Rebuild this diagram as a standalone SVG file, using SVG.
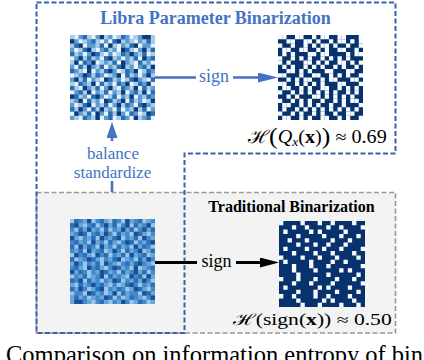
<svg xmlns="http://www.w3.org/2000/svg" width="424" height="360" viewBox="0 0 424 360">
<style>
text{font-family:"Liberation Serif","Times New Roman","DejaVu Serif",serif}
.blue{fill:#4472c4}
.blk{fill:#000}
.c{fill:none;stroke-width:1}
.frame-b{fill:none;stroke:#3a62aa;stroke-width:2;stroke-dasharray:5 2.5}
.frame-g{fill:#f3f3f3;stroke:#999;stroke-width:1.6;stroke-dasharray:5 2.5}
.con-b{fill:none;stroke:#4472c4;stroke-width:2.6}
.con-k{fill:none;stroke:#000;stroke-width:3}
</style>
<defs>
<marker id="ahB" viewBox="0 0 20 10" markerWidth="20" markerHeight="10" refX="10" refY="5" orient="auto" markerUnits="userSpaceOnUse"><path d="M0 0L20 5L0 10z" fill="#4472c4"/></marker>
<marker id="ahB2" viewBox="0 0 16 11" markerWidth="16" markerHeight="11" refX="8" refY="5.5" orient="auto" markerUnits="userSpaceOnUse"><path d="M0 0L16 5.5L0 11z" fill="#4472c4"/></marker>
<marker id="ahK" viewBox="0 0 19 10" markerWidth="19" markerHeight="10" refX="9" refY="5" orient="auto" markerUnits="userSpaceOnUse"><path d="M0 0L19 5L0 10z" fill="#000"/></marker>
<path id="g0" d="M1 0h1M5 0h1M10 0h1M14 0h1
M2 1h1M7 1h1M9 1h1M15 1h1
M3 2h1M8 2h1M11 2h1M16 2h1M19 2h1
M1 3h1M6 3h1M11 3h1M15 3h1
M3 4h1M8 4h1M10 4h1M18 4h1
M0 5h1M7 5h1M12 5h1M16 5h1
M2 6h1M6 6h1M11 6h1M15 6h1M19 6h1
M1 7h1M8 7h1M15 7h1
M3 8h1M5 8h1M11 8h1M16 8h1
M0 9h1M8 9h1M12 9h1M16 9h1
M4 10h1M7 10h1M12 10h1M18 10h1
M1 11h1M6 11h1M10 11h1M14 11h1M19 11h1
M2 12h1M7 12h1M11 12h1M16 12h1
M0 13h1M5 13h1M9 13h1M13 13h1M18 13h1
M4 14h1M8 14h1M11 14h1M15 14h1
M3 15h1M7 15h1M13 15h1M17 15h1
M1 16h1M5 16h1M9 16h1M15 16h1
M4 17h1M10 17h1M12 17h1M18 17h1
M0 18h1M5 18h1M8 18h1M13 18h1M16 18h1
M2 19h1M7 19h1M10 19h1M14 19h1M19 19h1"/>
<path id="g1" d="M0 0h1M4 0h1M8 0h1M11 0h1M15 0h1M19 0h1
M3 1h1M6 1h1M12 1h1M14 1h1M17 1h1M19 1h1
M0 2h1M6 2h1M10 2h1M13 2h1
M2 3h1M5 3h1M9 3h1M14 3h1M18 3h1
M1 4h1M7 4h1M11 4h1M16 4h1M19 4h1
M3 5h1M5 5h1M10 5h1M14 5h1
M0 6h1M7 6h1M9 6h1M14 6h1M17 6h1
M3 7h1M6 7h1M10 7h1M13 7h1M18 7h1
M2 8h1M7 8h1M12 8h1M17 8h1
M1 9h1M5 9h1M9 9h1M14 9h1M19 9h1
M2 10h1M6 10h1M10 10h1M13 10h1M17 10h1
M0 11h1M4 11h1M8 11h1M15 11h1
M1 12h1M5 12h1M10 12h1M14 12h1M18 12h1
M3 13h1M7 13h1M11 13h1M16 13h1
M2 14h1M9 14h1M13 14h1M17 14h1
M0 15h1M5 15h1M10 15h1M15 15h1M18 15h1
M2 16h1M7 16h1M12 16h1M19 16h1
M1 17h1M6 17h1M8 17h1M14 17h1M16 17h1
M3 18h1M10 18h1M17 18h1
M1 19h1M5 19h1M11 19h1M16 19h1"/>
<path id="g3" d="M3 0h1M12 0h1
M5 1h1M10 1h1M18 1h1
M1 2h1M7 2h1M14 2h1
M3 3h1M8 3h1M13 3h1M19 3h1
M0 4h1M6 4h1M12 4h1M17 4h1
M4 5h1M8 5h1M15 5h1M19 5h1
M3 6h1M10 6h1M16 6h1
M2 7h1M7 7h1M11 7h1M17 7h1
M0 8h1M8 8h1M13 8h1M18 8h1
M4 9h1M6 9h1M13 9h1
M3 10h1M9 10h1M14 10h1M19 10h1
M2 11h1M7 11h1M11 11h1M16 11h1
M0 12h1M6 12h1M12 12h1M17 12h1
M2 13h1M8 13h1M15 13h1M19 13h1
M1 14h1M5 14h1M10 14h1M18 14h1
M4 15h1M9 15h1M14 15h1
M3 16h1M8 16h1M13 16h1M16 16h1
M0 17h1M5 17h1M11 17h1M17 17h1
M4 18h1M9 18h1M14 18h1M19 18h1
M3 19h1M9 19h1M12 19h1M18 19h1"/>
<path id="g4" d="M7 0h1M17 0h2
M0 1h1M11 1h1
M2 2h1M9 2h1M15 2h1
M4 3h1M12 3h1M17 3h1
M5 4h1M14 4h1
M2 5h1M9 5h1M17 5h1
M1 6h1M5 6h1M12 6h1
M4 7h1M12 7h1M19 7h1
M4 8h1M9 8h1M15 8h1
M3 9h1M11 9h1M18 9h1
M1 10h1M8 10h1M15 10h1
M5 11h1M13 11h1M18 11h1
M3 12h1M9 12h1M15 12h1
M4 13h1M12 13h1M17 13h1
M0 14h1M6 14h1M14 14h1
M2 15h1M8 15h1M12 15h1M19 15h1
M4 16h1M11 16h1M17 16h1
M2 17h1M7 17h1M15 17h1
M1 18h1M6 18h1M11 18h1M18 18h1
M6 19h1M15 19h1"/>
</defs>

<g id="traditional-box">
<rect class="frame-g" x="36.5" y="192.5" width="359" height="140.5"/>
</g>
<g id="libra-box">
<path class="frame-b" d="M36.5 2.5H395.5V153.5H184.5V333H36.5Z"/>
</g>

<g id="libra-weights" transform="translate(70,37.125) scale(4.25)">
<rect x="0" y="-0.5" width="20" height="20" fill="#5b9cd2"/>
<use href="#g0" class="c" stroke="#eaf3fb"/>
<use href="#g1" class="c" stroke="#a8cce8"/>
<use href="#g3" class="c" stroke="#2a6db3"/>
<use href="#g4" class="c" stroke="#0c3a7d"/>
</g>
<g id="libra-binary" transform="translate(278,37.125) scale(4.25)">
<rect x="0" y="-0.5" width="20" height="20" fill="#08326e"/>
<use href="#g0" class="c" stroke="#f7fbff"/>
<use href="#g1" class="c" stroke="#f7fbff"/>
</g>
<g id="trad-weights" transform="translate(155,301.875) scale(-4.25)">
<rect x="0" y="-0.5" width="20" height="20" fill="#4189cb"/>
<use href="#g0" class="c" stroke="#9cc5e8"/>
<use href="#g1" class="c" stroke="#68a6da"/>
<use href="#g3" class="c" stroke="#2b6fb5"/>
<use href="#g4" class="c" stroke="#184f95"/>
</g>
<g id="trad-binary" transform="translate(365,304.85) scale(-4.3)">
<rect x="0" y="-0.5" width="20" height="20" fill="#08326e"/>
<use href="#g0" class="c" stroke="#f7fbff"/>
</g>

<g id="connectors">
<path class="con-b" d="M155 77.5H196M233 77.5H268" marker-end="url(#ahB)"/>
<path class="con-b" d="M112 192V181M112 141V130" marker-end="url(#ahB2)"/>
<path class="con-k" d="M155 262.5H197M236 262.5H269" marker-end="url(#ahK)"/>
</g>

<g id="labels" font-family="'Liberation Serif','Times New Roman','DejaVu Serif',serif">
<text class="blue" x="215.5" y="24" font-size="18" font-weight="bold" text-anchor="middle">Libra Parameter Binarization</text>
<text class="blue" x="214" y="82" font-size="18" text-anchor="middle">sign</text>
<text class="blue" x="113" y="158.5" font-size="17" text-anchor="middle">balance</text>
<text class="blue" x="112.5" y="177.5" font-size="17" text-anchor="middle">standardize</text>
<text class="blk" x="291.5" y="211.5" font-size="16" font-weight="bold" text-anchor="middle">Traditional Binarization</text>
<text class="blk" x="216.5" y="267" font-size="18" text-anchor="middle">sign</text>
<text class="blk" transform="translate(248,143) scale(1.12,1)" font-size="18">ℋ<tspan font-size="23" dy="1">(</tspan><tspan font-style="italic" dy="-1">Q</tspan><tspan font-style="italic" font-size="12" dy="3">x</tspan><tspan dy="-3">(</tspan><tspan font-weight="bold">x</tspan>)<tspan font-size="23" dy="1">)</tspan><tspan dy="-1"> ≈ 0.69</tspan></text>
<text class="blk" transform="translate(233,325) scale(1.35,1)" font-size="16">ℋ(sign(<tspan font-weight="bold">x</tspan>)) ≈ 0.50</text>
<text class="blk" x="6" y="363" font-size="24.5">Comparison on information entropy of bin</text>
</g>
</svg>
